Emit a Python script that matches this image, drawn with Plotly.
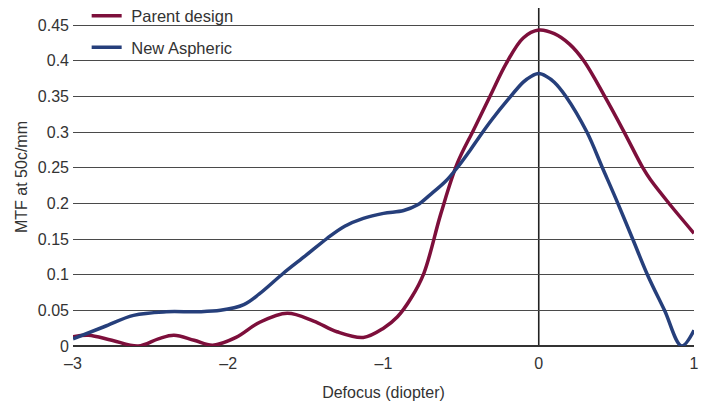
import plotly.graph_objects as go

# Parent design (maroon)
parent_x = [-3.0, -2.9, -2.75, -2.58, -2.45, -2.35, -2.22, -2.1, -1.95, -1.8, -1.62, -1.45, -1.3, -1.13,
            -1.0, -0.91, -0.82, -0.74, -0.63, -0.525, -0.42, -0.31, -0.21, -0.1, 0.0, 0.1, 0.2, 0.29,
            0.425, 0.55, 0.67, 0.72, 0.85, 1.0]
parent_y = [0.013, 0.015, 0.008, 0.0, 0.01, 0.015, 0.008, 0.001, 0.012, 0.033, 0.046, 0.035, 0.02, 0.012,
            0.025, 0.041, 0.068, 0.102, 0.186, 0.256, 0.303, 0.352, 0.396, 0.432, 0.443, 0.438, 0.423, 0.40,
            0.35, 0.30, 0.25, 0.233, 0.197, 0.158]

# New Aspheric (navy)
asph_x = [-3.0, -2.8, -2.61, -2.4, -2.2, -2.05, -1.9, -1.8, -1.645, -1.5, -1.363, -1.25, -1.13, -1.0,
          -0.87, -0.78, -0.70, -0.6, -0.525, -0.45, -0.374, -0.3, -0.2, -0.1, -0.05, 0.0, 0.05, 0.1,
          0.175, 0.31, 0.41, 0.5, 0.605, 0.70, 0.81, 0.92, 1.0]
asph_y = [0.01, 0.027, 0.043, 0.048, 0.048, 0.05, 0.058, 0.073, 0.102, 0.127, 0.151, 0.168, 0.179, 0.186,
          0.19, 0.198, 0.212, 0.231, 0.25, 0.272, 0.296, 0.318, 0.345, 0.370, 0.378, 0.382, 0.378, 0.37,
          0.35, 0.30, 0.25, 0.205, 0.15, 0.10, 0.05, 0.0, 0.022]

x_ticks = [-3, -2, -1, 0, 1]
x_ticktext = ["\u20133", "\u20132", "\u20131", "0", "1"]
y_ticks = [0, 0.05, 0.1, 0.15, 0.2, 0.25, 0.3, 0.35, 0.4, 0.45]
y_ticktext = ["0", "0.05", "0.1", "0.15", "0.2", "0.25", "0.3", "0.35", "0.4", "0.45"]

MAROON = "#7d0f3b"
NAVY = "#263f7b"
FONT = "Liberation Sans, Arial, sans-serif"

fig = go.Figure()
fig.add_trace(go.Scatter(x=parent_x, y=parent_y, mode="lines", name="\u00a0Parent design",
                         legendgroup="a",
                         line=dict(color=MAROON, width=3.5, shape="spline", smoothing=1.0)))
fig.add_trace(go.Scatter(x=asph_x, y=asph_y, mode="lines", name="\u00a0New Aspheric",
                         legendgroup="b",
                         line=dict(color=NAVY, width=3.5, shape="spline", smoothing=1.0)))

fig.add_shape(type="line", xref="x", yref="paper", x0=0, x1=0, y0=0, y1=1,
              line=dict(color="#222222", width=1.6), layer="below")

fig.update_layout(
    width=705, height=405,
    margin=dict(l=73, r=11, t=8, b=59, autoexpand=False),
    paper_bgcolor="white", plot_bgcolor="white",
    font=dict(family=FONT, size=16, color="#333333"),
    showlegend=True,
    legend=dict(x=0.022, y=1.028, xanchor="left", yanchor="top",
                bgcolor="rgba(0,0,0,0)", font=dict(size=16.5, color="#333333"),
                tracegroupgap=7, itemwidth=30),
    xaxis=dict(range=[-3, 1], tickvals=x_ticks, ticktext=x_ticktext, showgrid=False,
               zeroline=False, showline=False, ticks="", automargin=False,
               ticklabelstandoff=6,
               title=dict(text="Defocus (diopter)", standoff=15, font=dict(size=16))),
    yaxis=dict(range=[0, 0.474], tickvals=y_ticks, ticktext=y_ticktext, showgrid=True,
               gridcolor="#4a4a4a", gridwidth=1.3, zeroline=True, zerolinecolor="#333333",
               zerolinewidth=1.6, showline=False, ticks="", ticklabelstandoff=3, automargin=False,
               title=dict(text="MTF at 50c/mm", standoff=6, font=dict(size=16))),
)

fig.write_html("out.html", config={"displayModeBar": False},
               post_script="document.body.style.margin='0';document.body.style.padding='0';")
